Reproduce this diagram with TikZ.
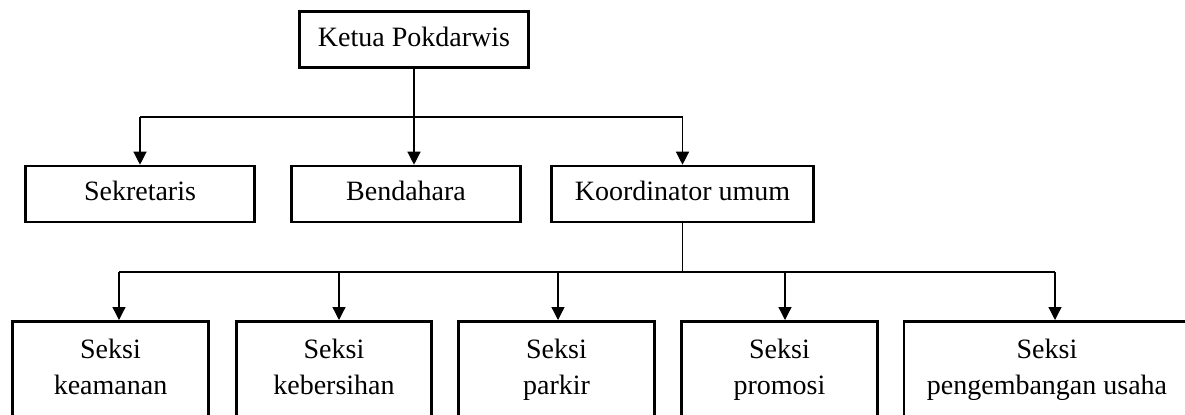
\documentclass[tikz,border=0pt]{standalone}
\usepackage{fontspec}
\setmainfont{Liberation Serif}
\usetikzlibrary{arrows.meta}
\begin{document}
\begin{tikzpicture}[x=1bp,y=-1bp,
  txt/.style={font=\fontsize{28bp}{36bp}\selectfont},
  box/.style={draw, line width=2.6bp, inner sep=0pt, txt, text height=19bp, text depth=6bp, minimum height=56bp},
  sbox/.style={draw, line width=2.6bp, inner sep=0pt, anchor=north, txt, align=center, text height=73bp, text depth=80bp},
  conn/.style={line width=1.3bp, line join=miter},
  arr/.style={conn, -{Triangle[width=13bp,length=13bp]}}]
\useasboundingbox (0,0) rectangle (1185,414);
\clip (0,0) rectangle (1185,414);
% top
\node[box, minimum width=229bp] (ketua) at (414,39.5) {Ketua Pokdarwis};
% middle row
\node[box, minimum width=229bp] (sek) at (140,194) {Sekretaris};
\node[box, minimum width=229bp] (ben) at (406,194) {Bendahara};
\node[box, minimum width=262bp] (koor) at (682.5,194) {Koordinator umum};
% bottom row
\node[sbox, minimum width=196bp] (kea) at (110.5,320) {Seksi\\keamanan};
\node[sbox, minimum width=195bp] (keb) at (334,320) {Seksi\\kebersihan};
\node[sbox, minimum width=196bp] (par) at (556.5,320) {Seksi\\parkir};
\node[sbox, minimum width=196bp] (pro) at (779.5,320) {Seksi\\promosi};
\node[sbox, minimum width=286bp] (pen) at (1047,320) {Seksi\\pengembangan usaha};
% upper connectors
\coordinate (bus) at (0,117);
\draw[conn] (sek.north |- bus) -- (koor.north |- bus);
\draw[arr] (sek.north |- bus) -- (sek.north);
\draw[arr] (koor.north |- bus) -- (koor.north);
\draw[arr] (ketua.south) -- (ketua.south |- ben.north);
% lower connectors
\coordinate (a1) at (119,272);
\coordinate (a2) at (339,272);
\coordinate (a3) at (558,272);
\coordinate (a4) at (785,272);
\coordinate (a5) at (1055,272);
\draw[conn] (koor.south) -- (koor.south |- a1);
\draw[conn] (a1) -- (a5);
\draw[arr] (a1) -- (a1 |- kea.north);
\draw[arr] (a2) -- (a2 |- keb.north);
\draw[arr] (a3) -- (a3 |- par.north);
\draw[arr] (a4) -- (a4 |- pro.north);
\draw[arr] (a5) -- (a5 |- pen.north);
\end{tikzpicture}
\end{document}
